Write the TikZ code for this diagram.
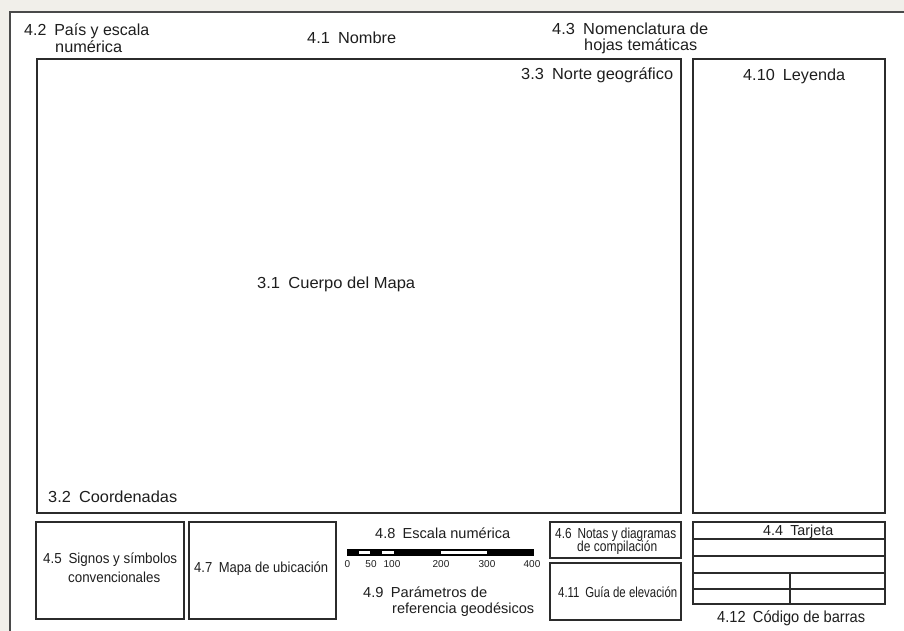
\documentclass[tikz,border=0pt]{standalone}
\usepackage{fontspec}
\setmainfont{Liberation Sans}
\usepackage{graphicx}
\definecolor{bgc}{HTML}{F1EFEA}
\definecolor{boxc}{HTML}{2B2B2B}
\definecolor{framec}{HTML}{4A4A4A}
\definecolor{txtc}{HTML}{1E1E1E}
\newcommand\sep{\hspace{0.5em}}
\newcommand\fw[2]{\resizebox{#1pt}{\height}{#2}}
\newcommand\lgf{\fontsize{16}{19}\selectfont}
\newcommand\smf{\fontsize{14.5}{17}\selectfont}
\newcommand\tnf{\fontsize{10}{12}\selectfont}
\tikzset{
  box/.style={draw=boxc, line width=1.8pt},
  lbl/.style={inner sep=0pt, anchor=base west, text=txtc},
  lblc/.style={inner sep=0pt, anchor=base, text=txtc},
}
\begin{document}
\begin{tikzpicture}[x=1pt, y=-1pt]
\useasboundingbox (0,0) rectangle (904,631);
% background and outer frame
\fill[bgc] (0,0) rectangle (904,631);
\fill[white] (10,12) rectangle (904,631);
\draw[framec, line width=2pt] (10,631) -- (10,12) -- (904,12);

% main boxes
\draw[box] (37,59) rectangle (681,513);
\draw[box] (693,59) rectangle (885,513);
\draw[box] (36,522) rectangle (184,619);
\draw[box] (189,522) rectangle (336,619);
\draw[box] (550,522) rectangle (681,558);
\draw[box] (550,563) rectangle (681,620);
% tarjeta table
\draw[box] (693,522) rectangle (885,604);
\draw[box] (693,539) -- (885,539);
\draw[box] (693,556) -- (885,556);
\draw[box] (693,573) -- (885,573);
\draw[box] (693,589) -- (885,589);
\draw[box] (790,573) -- (790,604);

% scale bar
\fill[black] (347,549) rectangle (534,556);
\fill[white] (358.7,550.6) rectangle (370.4,554.4);
\fill[white] (382.1,550.6) rectangle (393.7,554.4);
\fill[white] (440.5,550.6) rectangle (487.3,554.4);

% top labels
\node[lbl, font=\lgf] (l42a) at (24,36) {\fw{125}{4.2\sep País y escala}};
\node[lbl, font=\lgf] (l42b) at (55,52.5) {\fw{67}{numérica}};
\node[lbl, font=\lgf] (l41) at (307,44) {\fw{89}{4.1\sep Nombre}};
\node[lbl, font=\lgf] (l43a) at (552,35) {\fw{156}{4.3\sep Nomenclatura de}};
\node[lbl, font=\lgf] (l43b) at (584,51) {\fw{113}{hojas temáticas}};
\node[lbl, font=\lgf] (l33) at (521,80) {\fw{152}{3.3\sep Norte geográfico}};
\node[lbl, font=\lgf] (l410) at (743,81) {\fw{102}{4.10\sep Leyenda}};
\node[lbl, font=\lgf] (l31) at (257,288) {\fw{158}{3.1\sep Cuerpo del Mapa}};
\node[lbl, font=\lgf] (l32) at (48,502) {\fw{129}{3.2\sep Coordenadas}};

% bottom labels
\node[lbl, font=\smf] (l45a) at (43,563) {\fw{134}{4.5\sep Signos y símbolos}};
\node[lbl, font=\smf] (l45b) at (68,582) {\fw{92}{convencionales}};
\node[lbl, font=\smf] (l47) at (194,572) {\fw{134}{4.7\sep Mapa de ubicación}};
\node[lbl, font=\smf] (l48) at (375,538) {\fw{135}{4.8\sep Escala numérica}};
\node[lbl, font=\smf] (l49a) at (363,597) {\fw{124}{4.9\sep Parámetros de}};
\node[lbl, font=\smf] (l49b) at (392,613) {\fw{142}{referencia geodésicos}};
\node[lbl, font=\smf] (l46a) at (555,538) {\fw{121}{4.6\sep Notas y diagramas}};
\node[lbl, font=\smf] (l46b) at (577,551) {\fw{80}{de compilación}};
\node[lbl, font=\smf] (l411) at (558,597) {\fw{119}{4.11\sep Guía de elevación}};
\node[lbl, font=\smf] (l44) at (763,535) {\fw{70}{4.4\sep Tarjeta}};
\node[lbl, font=\lgf] (l412) at (717,622) {\fw{148}{4.12\sep Código de barras}};

% scale numbers
\node[lblc, font=\tnf] (s0) at (347.5,567) {0};
\node[lblc, font=\tnf] (s50) at (371,567) {50};
\node[lblc, font=\tnf] (s100) at (392,567) {100};
\node[lblc, font=\tnf] (s200) at (441,567) {200};
\node[lblc, font=\tnf] (s300) at (487,567) {300};
\node[lblc, font=\tnf] (s400) at (532,567) {400};
\end{tikzpicture}
\end{document}
